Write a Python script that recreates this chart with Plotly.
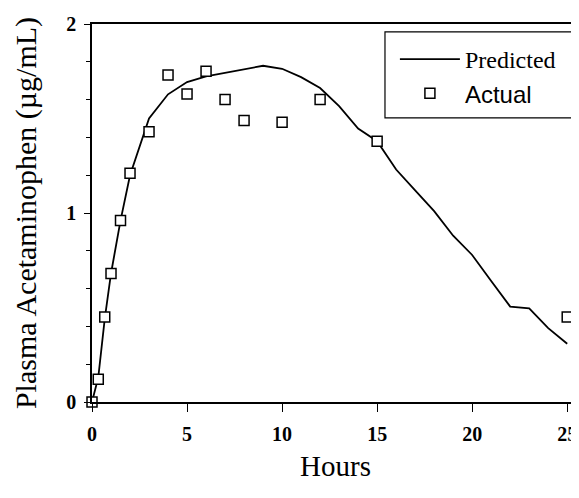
import plotly.graph_objects as go

# Predicted curve (hours, µg/mL)
pred_hours = [0, 0.33, 0.67, 1, 1.5, 2, 3, 4, 5, 6, 9, 10, 11, 12, 13, 14, 15,
              16, 17, 18, 19, 20, 21, 22, 23, 24, 25]
pred_conc = [0, 0.13, 0.44, 0.68, 0.96, 1.20, 1.50, 1.628, 1.693, 1.723, 1.779,
             1.763, 1.719, 1.661, 1.565, 1.447, 1.38, 1.23, 1.12, 1.01, 0.88,
             0.778, 0.64, 0.505, 0.496, 0.391, 0.308]

# Actual measurements
act_hours = [0, 0.33, 0.67, 1, 1.5, 2, 3, 4, 5, 6, 7, 8, 10, 12, 15, 25]
act_conc = [0, 0.12, 0.45, 0.68, 0.96, 1.21, 1.43, 1.73, 1.63, 1.75, 1.60,
            1.49, 1.48, 1.60, 1.38, 0.45]

x_ticks = [0, 5, 10, 15, 20, 25]
y_ticks = [0, 1, 2]

serif = "Liberation Serif, Times New Roman, serif"
sans = "Liberation Sans, Arial, sans-serif"

fig = go.Figure()
fig.add_trace(go.Scatter(
    x=pred_hours, y=pred_conc, mode="lines", name="Predicted",
    line=dict(color="black", width=1.8), cliponaxis=False,
))
fig.add_trace(go.Scatter(
    x=act_hours, y=act_conc, mode="markers",
    name='<span style="font-family:Liberation Sans, Arial, sans-serif">Actual</span>',
    marker=dict(symbol="square", size=10, color="white",
                line=dict(color="black", width=1.5)),
    cliponaxis=False,
))

# legend frame
fig.add_shape(type="rect", xref="paper", yref="paper",
              x0=0.6016, x1=0.9959, y0=0.7517, y1=0.979,
              line=dict(color="black", width=1.2), fillcolor="white",
              layer="above")

fig.update_layout(
    width=579, height=498,
    margin=dict(l=84, r=8, t=16, b=104),
    paper_bgcolor="white", plot_bgcolor="white",
    font=dict(family=serif, color="black"),
    showlegend=True,
    legend=dict(
        x=0.622, y=0.9657, xanchor="left", yanchor="top",
        bgcolor="rgba(0,0,0,0)", borderwidth=0,
        font=dict(family=serif, size=24, color="black"),
        itemwidth=60, tracegroupgap=0,
    ),
    xaxis=dict(
        range=[0, 25.62], tickvals=x_ticks, ticktext=[str(v) for v in x_ticks],
        showline=True, linecolor="black", linewidth=1.5, mirror=True,
        ticks="outside", ticklen=8, tickwidth=1.2, tickcolor="black",
        showgrid=False, zeroline=False, automargin=False,
        tickfont=dict(family=serif, size=20, color="black", weight="bold"),
        ticklabelstandoff=5,
        title=dict(text="Hours", font=dict(family=serif, size=29, color="black"),
                   standoff=12),
    ),
    yaxis=dict(
        range=[0, 2], tickvals=y_ticks, ticktext=[str(v) for v in y_ticks],
        showline=True, linecolor="black", linewidth=1.5, mirror=False,
        ticks="outside", ticklen=6, tickwidth=1.2, tickcolor="black",
        minor=dict(dtick=0.2, ticks="outside", ticklen=4, tickcolor="black",
                   tickwidth=1, showgrid=False),
        showgrid=False, zeroline=False, automargin=False,
        tickfont=dict(family=serif, size=20, color="black", weight="bold"),
        ticklabelstandoff=4,
        title=dict(text="Plasma Acetaminophen (µg/mL)",
                   font=dict(family=serif, size=30, color="black"),
                   standoff=21),
    ),
)

fig.write_html("out.html")
